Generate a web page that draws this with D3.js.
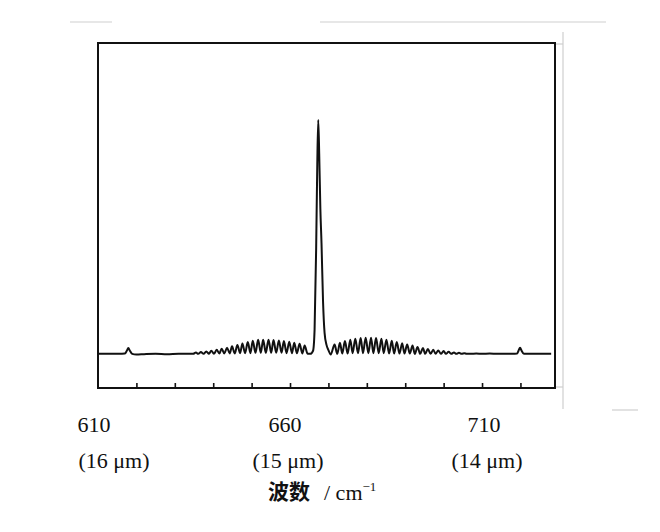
<!DOCTYPE html>
<html>
<head>
<meta charset="utf-8">
<script src="https://cdn.jsdelivr.net/npm/d3@7"></script>
<style>
  html, body { margin: 0; padding: 0; background: #fff; }
  .chart-container { width: 660px; height: 532px; }
  text { fill: #111; }
</style>
</head>
<body>
<script>
//---->DATA (wavenumber in cm-1, absorbance in arbitrary units)<-----//
const leftWingWave = [610, 613, 615.5, 617.0, 617.5, 617.9, 618.3, 618.9, 620, 622, 625, 628, 631, 633, 634.8];
const leftWingAbs  = [9.9, 9.9, 9.9, 10.0, 10.8, 11.6, 10.8, 9.9, 9.7, 9.8, 9.9, 9.8, 9.9, 9.9, 9.9];

const pPeakWave = [635.5, 636.8, 638.2, 639.5, 640.9, 642.2, 643.6, 644.9, 646.3, 647.6, 649.0,
                   650.3, 651.7, 653.0, 654.4, 655.7, 657.1, 658.4, 659.8, 661.1, 662.5, 663.8];
const pPeakAbs  = [10.3, 10.4, 10.6, 10.8, 11.1, 11.4, 11.7, 12.1, 12.5, 12.9, 13.3,
                   13.7, 14.0, 14.0, 14.0, 13.9, 13.8, 13.6, 13.4, 13.1, 12.8, 12.3];
const pValleyWave = [636.1, 637.5, 638.9, 640.2, 641.6, 642.9, 644.3, 645.6, 647.0, 648.3, 649.7,
                     651.0, 652.4, 653.7, 655.1, 656.4, 657.8, 659.1, 660.5, 661.8, 663.2, 664.6];
const pValleyAbs  = [9.9, 9.9, 9.9, 9.9, 10.0, 10.0, 10.0, 10.0, 10.1, 10.1, 10.1,
                     10.2, 10.2, 10.2, 10.2, 10.2, 10.2, 10.1, 10.1, 10.1, 10.0, 9.9];

const qBranchWave = [665.3, 666.0, 666.4, 666.8, 667.1, 667.35, 667.6, 667.9, 668.2, 668.6, 669.0, 669.5, 670.0, 670.6];
const qBranchAbs  = [9.9, 10.8, 17.0, 40.0, 65.0, 77.7, 68.0, 52.0, 42.0, 25.0, 16.0, 12.5, 11.0, 9.7];

const rPeakWave = [671.6, 673.0, 674.3, 675.7, 677.0, 678.4, 679.7, 681.1, 682.4, 683.8, 685.1, 686.5, 687.8,
                   689.2, 690.5, 691.9, 693.2, 694.6, 695.9, 697.3, 698.6, 700.0, 701.3, 702.7, 704.0, 705.4];
const rPeakAbs  = [12.6, 13.1, 13.6, 14.0, 14.3, 14.5, 14.6, 14.6, 14.5, 14.3, 14.0, 13.7, 13.3,
                   13.0, 12.6, 12.3, 11.9, 11.6, 11.3, 11.1, 10.9, 10.7, 10.5, 10.3, 10.2, 10.1];
const rValleyWave = [672.3, 673.6, 675.0, 676.3, 677.7, 679.0, 680.4, 681.7, 683.1, 684.4, 685.8, 687.1, 688.5,
                     689.8, 691.2, 692.5, 693.9, 695.2, 696.6, 697.9, 699.3, 700.6, 702.0, 703.3, 704.7, 706.0];
const rValleyAbs  = [9.9, 10.0, 10.0, 10.1, 10.1, 10.1, 10.1, 10.1, 10.1, 10.1, 10.0, 10.0, 10.0,
                     10.0, 10.0, 9.9, 9.9, 9.9, 9.9, 9.9, 9.9, 9.9, 9.9, 9.9, 9.9, 9.9];

const rightWingWave = [707, 708.5, 710, 712, 714, 716, 718, 719.1, 719.5, 719.9, 720.3, 720.9, 722, 725, 728];
const rightWingAbs  = [9.9, 10.0, 9.9, 10.0, 9.9, 9.9, 9.9, 10.0, 10.8, 11.7, 10.8, 9.9, 9.9, 9.9, 9.9];

const xTicks = [620, 630, 640, 650, 660, 670, 680, 690, 700, 710, 720];
const waveLabels = ['610', '660', '710'];
const waveLabelValues = [610, 660, 710];
const microLabels = ['(16 μm)', '(15 μm)', '(14 μm)'];

//---->GLOBAL VARIABLES<-----//
const container = d3.select('body').append('div').attr('class', 'chart-container');

let svg,
    g;

let margin,
    w,
    h,
    x,
    y;

let spectrum;

function zipPoints(waves, values) {
  return waves.map((d, i) => ({ wave: d, abs: values[i] }));
}

function build() {
  container.selectAll('*').remove();

  svg = container.append('svg')
      .attr('width', 660)
      .attr('height', 532);

  // faint slide guide lines around the figure
  const guides = [
    [70, 22, 112, 22], [320, 22, 606, 22],
    [563, 32, 563, 409], [555, 44, 563, 44], [555, 387, 563, 387],
    [612, 410, 638, 410]
  ];
  svg.append('g')
      .attr('class', 'guides')
      .selectAll('line')
      .data(guides)
      .enter()
      .append('line')
      .attr('x1', d => d[0]).attr('y1', d => d[1])
      .attr('x2', d => d[2]).attr('y2', d => d[3])
      .attr('stroke', '#cfcfcf')
      .attr('stroke-width', 1.2);

  g = svg.append('g')
      .attr('transform', `translate(${margin.left},${margin.top})`);

  // ticks on the bottom edge, pointing into the plot
  g.append('g')
      .attr('class', 'x axis')
      .attr('transform', `translate(0,${h})`)
      .call(d3.axisBottom(x)
        .tickValues(xTicks)
        .tickSizeInner(-5)
        .tickSizeOuter(0)
        .tickFormat(''))
      .call(a => a.select('.domain').remove())
      .call(a => a.selectAll('line').attr('stroke', '#111').attr('stroke-width', 1.6));

  const line = d3.line()
      .x(d => x(d.wave))
      .y(d => y(d.abs))
      .curve(d3.curveMonotoneX);

  g.append('path')
      .datum(spectrum)
      .attr('fill', 'none')
      .attr('stroke', '#111')
      .attr('stroke-width', 2)
      .attr('stroke-linejoin', 'round')
      .attr('d', line);

  // frame
  g.append('rect')
      .attr('width', w)
      .attr('height', h)
      .attr('fill', 'none')
      .attr('stroke', '#111')
      .attr('stroke-width', 2);

  // wavenumber and wavelength labels under the axis
  const numShift = [-4, -5, 2];
  const microShift = [16, -2, 5];

  svg.append('g')
      .selectAll('text')
      .data(waveLabels)
      .enter()
      .append('text')
      .attr('x', (d, i) => margin.left + x(waveLabelValues[i]) + numShift[i])
      .attr('y', 432)
      .attr('text-anchor', 'middle')
      .style('font-family', '"Liberation Serif", "Times New Roman", serif')
      .style('font-size', '22px')
      .text(d => d);

  svg.append('g')
      .selectAll('text')
      .data(microLabels)
      .enter()
      .append('text')
      .attr('x', (d, i) => margin.left + x(waveLabelValues[i]) + microShift[i])
      .attr('y', 468)
      .attr('text-anchor', 'middle')
      .style('font-family', '"Liberation Serif", "Times New Roman", serif')
      .style('font-size', '22px')
      .text(d => d);

  // axis title
  const title = svg.append('text')
      .attr('x', 268)
      .attr('y', 499);

  title.append('tspan')
      .style('font-family', '"Noto Sans CJK SC", sans-serif')
      .style('font-weight', 'bold')
      .style('font-size', '21px')
      .text('波数');

  title.append('tspan')
      .attr('x', 324)
      .attr('y', 500)
      .style('font-family', '"Liberation Serif", serif')
      .style('font-size', '22px')
      .text('/ cm');

  title.append('tspan')
      .attr('dy', -9)
      .style('font-family', '"Liberation Serif", serif')
      .style('font-size', '13px')
      .text('−1');
}

function setup() {
  margin = {
    left: 98,
    right: 105,
    top: 43,
    bottom: 144
  };

  w = 660 - margin.left - margin.right;
  h = 532 - margin.top - margin.bottom;

  x = d3.scaleLinear()
      .domain([610, 729])
      .range([0, w]);

  y = d3.scaleLinear()
      .domain([0, 100])
      .range([h, 0]);

  build();
}

function init() {
  spectrum = [].concat(
    zipPoints(leftWingWave, leftWingAbs),
    zipPoints(pPeakWave, pPeakAbs),
    zipPoints(pValleyWave, pValleyAbs),
    zipPoints(qBranchWave, qBranchAbs),
    zipPoints(rPeakWave, rPeakAbs),
    zipPoints(rValleyWave, rValleyAbs),
    zipPoints(rightWingWave, rightWingAbs)
  ).sort((a, b) => a.wave - b.wave);

  setup();
}

init();
</script>
</body>
</html>
